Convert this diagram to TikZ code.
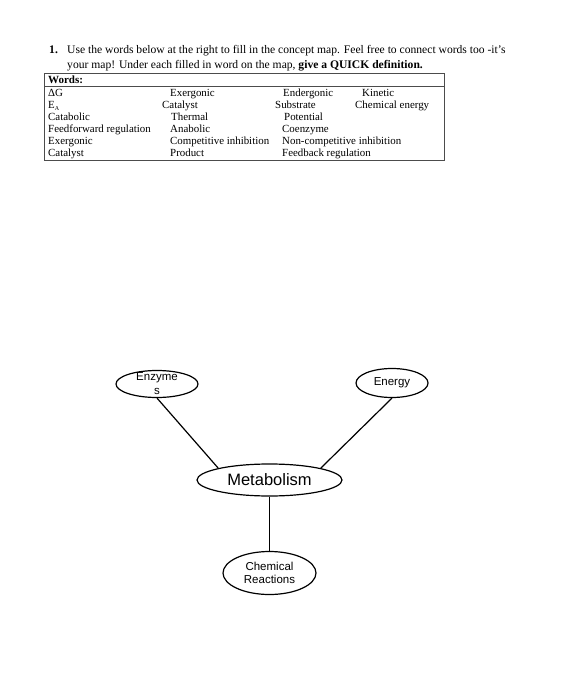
\documentclass[tikz,border=0pt]{standalone}
\usepackage{fontspec}
\setmainfont{Liberation Serif}
\setsansfont{Liberation Sans}
\usetikzlibrary{shapes.geometric,positioning}

\begin{document}
\begin{tikzpicture}[
    x=1pt, y=-1pt,
    line/.style={draw=black, line width=1.2pt},
    heading/.style={anchor=base west, inner sep=0pt, font=\fontsize{11.6}{13}\selectfont},
    word/.style={anchor=base west, inner sep=0pt, font=\fontsize{10.9}{12}\selectfont},
    concept/.style={
        ellipse,
        draw=black,
        line width=1.2pt,
        inner sep=0pt,
        align=center,
        font=\sffamily\fontsize{11.5}{13.5}\selectfont
    },
    hub/.style={concept, font=\sffamily\fontsize{16.5}{19}\selectfont}
]
    \useasboundingbox (0,0) rectangle (570,700);

    % --- QUESTION ---
    \node[heading, font=\bfseries\fontsize{11.6}{13}\selectfont] (qnum) at (49,54) {1.};
    \node[heading] (qline1) at (67,54) {Use the words below at the right to fill in the concept map. Feel free to connect words too -it's};
    \node[heading] (qline2) at (67,68.5) {your map! Under each filled in word on the map, \textbf{give a QUICK definition.}};

    % --- WORD BOX ---
    \coordinate (boxNW) at (44,73);
    \coordinate (boxSE) at (444,160);
    \draw[line width=0.6pt, draw=black!70] (boxNW) rectangle (boxSE);
    \draw[line width=0.6pt, draw=black!70] (44,86) -- (444,86);
    \node[word, font=\bfseries\fontsize{11}{12}\selectfont] (wordsHead) at (48,83.5) {Words:};

    % Column 1
    \node[word] (dg) at (48,96.5) {ΔG};
    \node[word] (ea) at (48,108.5) {E\raisebox{-0.35ex}{\fontsize{6}{7}\selectfont A}};
    \node[word] (catab) at (48,120.5) {Catabolic};
    \node[word] (ffreg) at (48,133) {Feedforward regulation};
    \node[word] (exerA) at (48,145) {Exergonic};
    \node[word] (catA) at (48,157) {Catalyst};

    % Column 2
    \node[word] (exerB) at (170,96.5) {Exergonic};
    \node[word] (catB) at (162,108.5) {Catalyst};
    \node[word] (therm) at (171,120.5) {Thermal};
    \node[word] (anab) at (170,133) {Anabolic};
    \node[word] (compinh) at (170,145) {Competitive inhibition};
    \node[word] (prod) at (170,157) {Product};

    % Column 3
    \node[word] (ender) at (283,96.5) {Endergonic};
    \node[word] (subs) at (275,108.5) {Substrate};
    \node[word] (pot) at (284,120.5) {Potential};
    \node[word] (coenz) at (282,133) {Coenzyme};
    \node[word] (noncomp) at (282,145) {Non-competitive inhibition};
    \node[word] (fbreg) at (282,157) {Feedback regulation};

    % Column 4
    \node[word] (kin) at (362,96.5) {Kinetic};
    \node[word] (chemen) at (355,108.5) {Chemical energy};

    % --- CONCEPT MAP ---
    \node[concept, minimum width=82pt, minimum height=27pt] (enzymes) at (157,384) {};
    \node[inner sep=0pt, align=center, font=\sffamily\fontsize{11.5}{14}\selectfont] (enzymesText) at (157,383.5) {Enzyme\\s};
    \node[concept, minimum width=72pt, minimum height=29pt] (energy) at (392,383) {Energy};
    \node[hub, minimum width=145pt, minimum height=32pt] (metabolism) at (269.5,480) {Metabolism};
    \node[concept, minimum width=93pt, minimum height=43pt] (chem) at (269.5,573) {Chemical\\Reactions};

    % --- CONNECTIONS ---
    \draw[line] (enzymes.south) -- (metabolism.167);
    \draw[line] (energy.south) -- (metabolism.13);
    \draw[line] (metabolism.south) -- (chem.north);

\end{tikzpicture}
\end{document}
